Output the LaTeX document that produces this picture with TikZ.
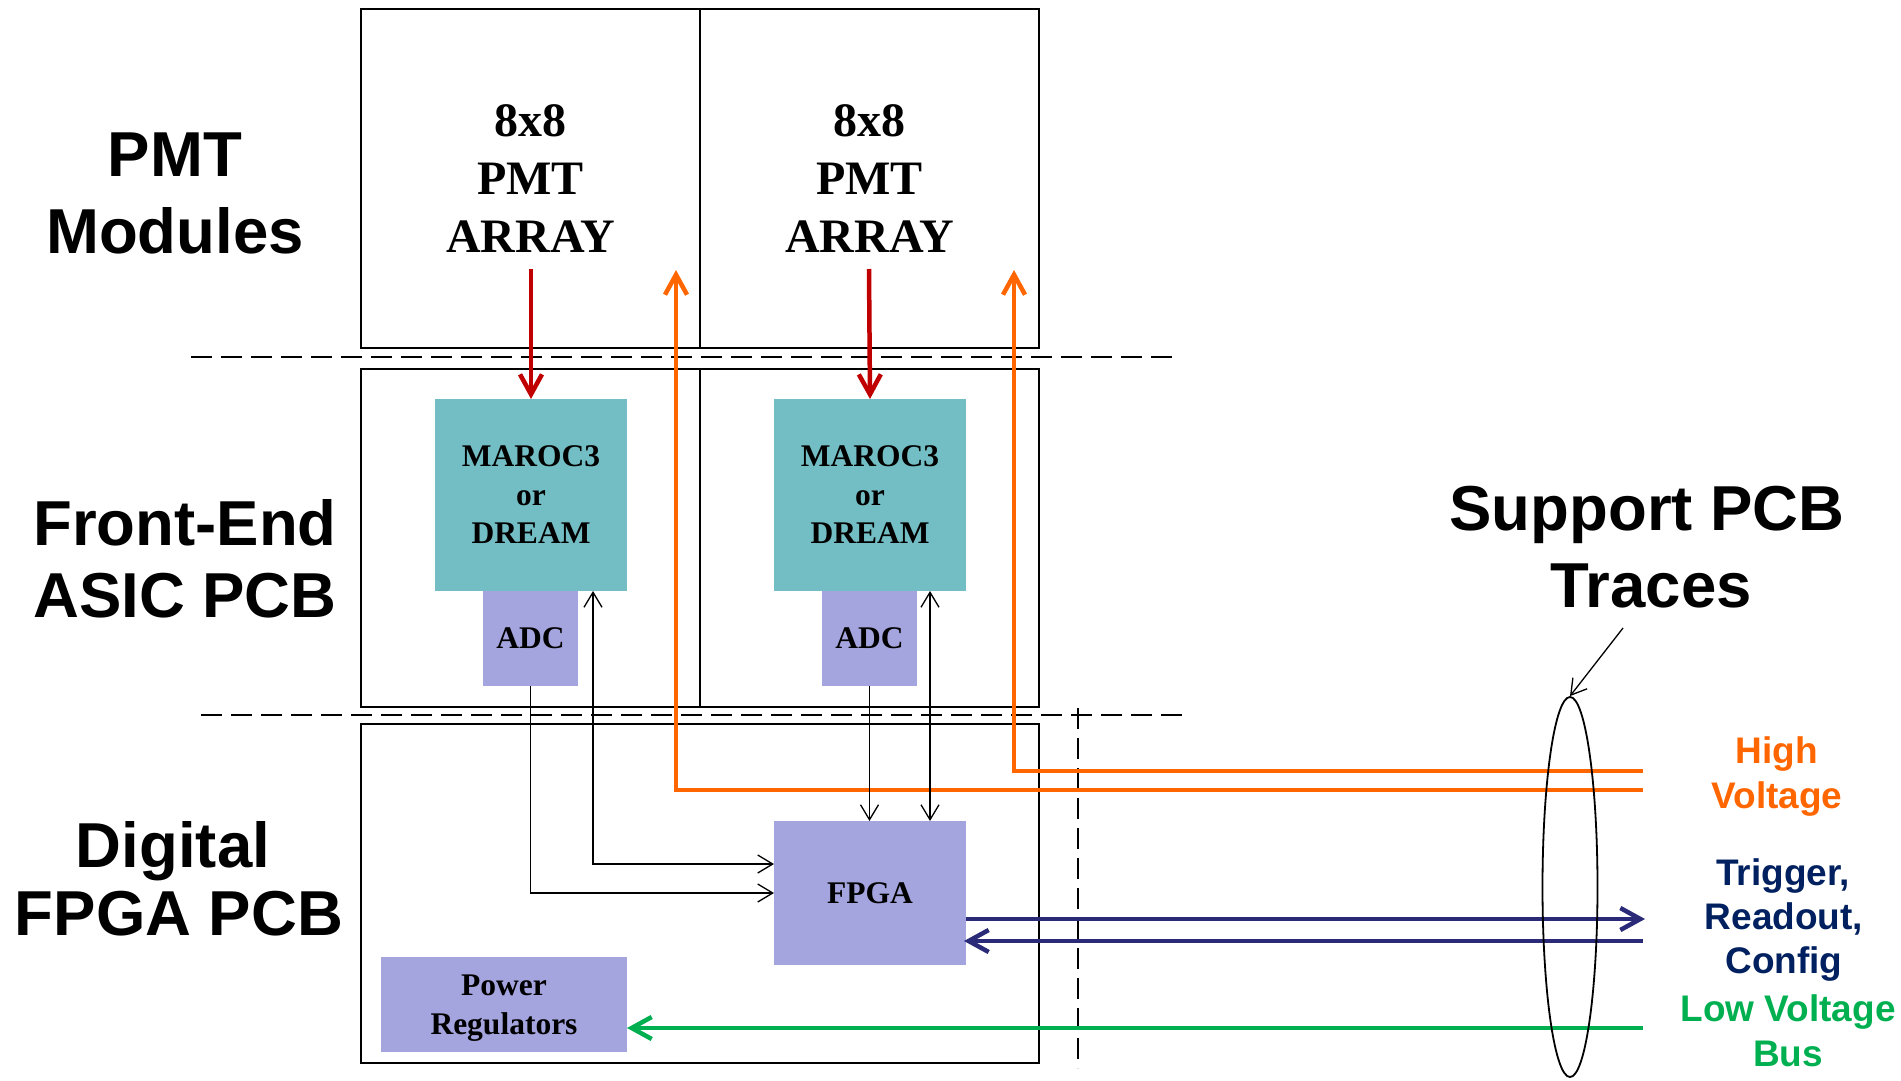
\documentclass[tikz,border=0pt]{standalone}
\usepackage{fontspec}
\setmainfont{Liberation Serif}
\setsansfont{Liberation Sans}
\usetikzlibrary{arrows.meta,shapes.geometric}

\definecolor{hvorange}{HTML}{FF6600}
\definecolor{sigred}{HTML}{C00000}
\definecolor{busnavy}{HTML}{2B2A78}
\definecolor{txtnavy}{HTML}{002060}
\definecolor{lvgreen}{HTML}{00B050}
\definecolor{asicteal}{HTML}{73BEC4}
\definecolor{chiplav}{HTML}{A4A4DE}

\begin{document}
\begin{tikzpicture}[x=1pt,y=-1pt,
  pcb/.style={draw=black, line width=2.2pt, inner sep=0pt, outer sep=0pt},
  pmtbox/.style={pcb, minimum width=339pt, minimum height=339pt, align=center,
    text depth=-9pt, font=\bfseries\fontsize{48}{58}\selectfont},
  chip/.style={inner sep=0pt, outer sep=0pt, align=center, text depth=-9pt,
    font=\bfseries\fontsize{31.5}{38.5}\selectfont},
  asic/.style={chip, fill=asicteal},
  lav/.style={chip, fill=chiplav},
  layerlbl/.style={font=\sffamily\bfseries\fontsize{63.5}{72}\selectfont, anchor=base, inner sep=0pt},
  tracelbl/.style={font=\sffamily\bfseries\fontsize{37}{44}\selectfont, anchor=base, inner sep=0pt},
  divider/.style={line width=2.6pt, dash pattern=on 21pt off 9pt},
  bigtip/.tip={Straight Barb[length=20pt,width=22pt]},
  smalltip/.tip={Straight Barb[length=15pt,width=18pt]},
  power trace/.style={line width=4.5pt},
  signal/.style={line width=1.3pt},
]
\path[use as bounding box] (0,0) rectangle (1901,1081);

% layer dividers
\draw[divider] (191,357) -- (1180,357);
\draw[divider] (201,715) -- (1183,715);
\draw[divider] (1078,708) -- (1078,1068);

% PMT modules
\node[pmtbox] (pmtL) at (530.5,178.5) {8x8\\PMT\\ARRAY};
\node[pmtbox] (pmtR) at (869.5,178.5) {8x8\\PMT\\ARRAY};

% front-end ASIC boards
\node[pcb, minimum width=339pt, minimum height=338pt] (feL) at (530.5,538) {};
\node[pcb, minimum width=339pt, minimum height=338pt] (feR) at (869.5,538) {};

% digital FPGA board
\node[pcb, minimum width=678pt, minimum height=339pt] (dig) at (700,893.5) {};

% chips
\node[asic, minimum width=192pt, minimum height=192pt] (marocL) at (531,495) {MAROC3\\or\\DREAM};
\node[asic, minimum width=192pt, minimum height=192pt] (marocR) at (870,495) {MAROC3\\or\\DREAM};
\node[lav, minimum width=95pt, minimum height=95pt] (adcL) at (530.5,638.5) {ADC};
\node[lav, minimum width=95pt, minimum height=95pt] (adcR) at (869.5,638.5) {ADC};
\node[lav, minimum width=192pt, minimum height=144pt] (fpga) at (870,893) {FPGA};
\node[lav, minimum width=246pt, minimum height=95pt] (power) at (504,1004.5) {Power\\Regulators};

% free ends of the traces
\coordinate (redsrcL) at (531,269);
\coordinate (redsrcR) at (869,269);
\coordinate (hvtipL) at (676,270);
\coordinate (hvtipR) at (1014,270);
\coordinate (hvendL) at (1643,790);
\coordinate (hvendR) at (1643,771);
\coordinate (busout) at (1645,919);
\coordinate (busin) at (1643,941);
\coordinate (lvin) at (1643,1028);
\coordinate (callout) at (1623,628);

% PMT signals into the ASICs
\draw[sigred, power trace, -{bigtip}] (redsrcL) -- (marocL.north);
\draw[sigred, power trace, -{bigtip}] (redsrcR) -- (marocR.north);

% high voltage feeds
\draw[hvorange, power trace, -{bigtip}] (hvendL) -- (hvendL -| hvtipL) -- (hvtipL);
\draw[hvorange, power trace, -{bigtip}] (hvendR) -- (hvendR -| hvtipR) -- (hvtipR);

% ADC data and ASIC control links
\draw[signal, -{smalltip}] (adcL.south) |- (fpga.west);
\draw[signal, {smalltip}-{smalltip}] ([xshift=62pt]marocL.south) |- ([yshift=29pt]fpga.west);
\draw[signal, -{smalltip}] (adcR.south) -- (adcR.south |- fpga.north);
\draw[signal, {smalltip}-{smalltip}] ([xshift=60pt]marocR.south) -- ([xshift=60pt]marocR.south |- fpga.north);

% trigger / readout / config bus
\draw[busnavy, power trace, -{bigtip}] ([yshift=-26pt]fpga.east) -- (busout);
\draw[busnavy, power trace, -{bigtip}] (busin) -- ([xshift=-2pt]busin -| fpga.east);

% low voltage bus
\draw[lvgreen, power trace, -{bigtip}] (lvin) -- (lvin -| power.east);

% support PCB trace bundle
\node[draw, ellipse, line width=1.8pt, inner sep=0pt, minimum width=55pt, minimum height=380pt] (bundle) at (1570,887) {};
\draw[signal, -{smalltip}] (callout) -- (bundle.north);

% layer labels
\node[layerlbl] (lblPMTa) at (175,176) {PMT};
\node[layerlbl] (lblPMTb) at (175,253) {Modules};
\node[layerlbl] (lblFEa) at (185,545) {Front-End};
\node[layerlbl] (lblFEb) at (185,617) {ASIC PCB};
\node[layerlbl] (lblDIGa) at (173,867) {Digital};
\node[layerlbl] (lblDIGb) at (179,935) {FPGA PCB};
\node[layerlbl] (lblSUPa) at (1647,530) {Support PCB};
\node[layerlbl] (lblSUPb) at (1651,607) {Traces};

% trace labels
\node[tracelbl, text=hvorange] (lblHVa) at (1777,763) {High};
\node[tracelbl, text=hvorange] (lblHVb) at (1777,808) {Voltage};
\node[tracelbl, text=txtnavy] (lblTRa) at (1783,885) {Trigger,};
\node[tracelbl, text=txtnavy] (lblTRb) at (1784,929) {Readout,};
\node[tracelbl, text=txtnavy] (lblTRc) at (1784,973) {Config};
\node[tracelbl, text=lvgreen] (lblLVa) at (1788,1021) {Low Voltage};
\node[tracelbl, text=lvgreen] (lblLVb) at (1788,1066) {Bus};
\end{tikzpicture}
\end{document}
